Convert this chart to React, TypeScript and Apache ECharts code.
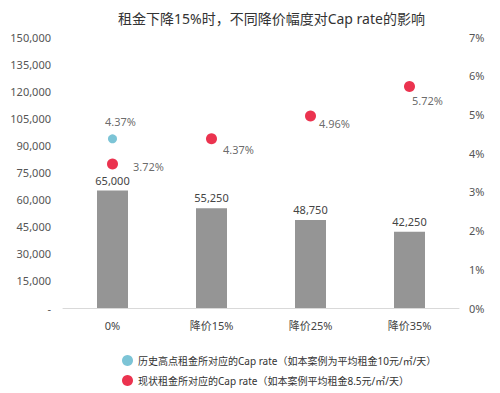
import React, { useEffect, useRef } from "react";
import * as echarts from "echarts";

const categories = ["0%", "降价15%", "降价25%", "降价35%"];
const priceValues = [65000, 55250, 48750, 42250];
const historicalCap = [4.37, null, null, null];
const currentCap = [3.72, 4.37, 4.96, 5.72];
const currentLabelOffsets = [
  [10, 3],
  [1, 11],
  [-2, 8],
  [-8, 14],
];

const FONT = "'Noto Sans', 'Noto Sans CJK SC', sans-serif";

export default function App() {
  const ref = useRef<HTMLDivElement>(null);
  useEffect(() => {
    document.body.style.margin = "0";
    if (!ref.current) return;
    const chart = echarts.init(ref.current, null, { renderer: "svg" });
    chart.setOption({
      animation: false,
      textStyle: { fontFamily: FONT },
      title: {
        text: "租金下降15%时，不同降价幅度对Cap rate的影响",
        left: 113,
        top: 6,
        textStyle: { fontSize: 14, fontWeight: "normal", color: "#333", fontFamily: FONT },
      },
      grid: { left: 63, right: 41, top: 37, bottom: 85 },
      legend: {
        orient: "vertical",
        left: 117,
        top: 350,
        height: 60,
        itemGap: 9,
        itemWidth: 11,
        itemHeight: 11,
        textStyle: { fontSize: 10, color: "#333", fontFamily: FONT },
        data: [
          { name: "历史高点租金所对应的Cap rate（如本案例为平均租金10元/㎡/天）", icon: "circle" },
          { name: "现状租金所对应的Cap rate（如本案例平均租金8.5元/㎡/天）", icon: "circle" },
        ],
      },
      xAxis: {
        type: "category",
        data: categories,
        axisLine: { lineStyle: { color: "#d9d9d9" } },
        axisTick: { show: false },
        axisLabel: { color: "#444", fontSize: 11, margin: 12 },
      },
      yAxis: [
        {
          type: "value",
          min: 0,
          max: 150000,
          interval: 15000,
          splitLine: { show: false },
          axisLine: { show: false },
          axisTick: { show: false },
          axisLabel: {
            color: "#555",
            fontSize: 11,
            margin: 12,
            formatter: (v: number) => (v === 0 ? "-" : v.toLocaleString("en-US")),
          },
        },
        {
          type: "value",
          min: 0,
          max: 7,
          interval: 1,
          position: "right",
          splitLine: { show: false },
          axisLine: { show: false },
          axisTick: { show: false },
          axisLabel: { color: "#555", fontSize: 11, margin: 10, formatter: "{value}%" },
        },
      ],
      series: [
        {
          type: "bar",
          name: "价格",
          data: priceValues,
          barWidth: 31,
          itemStyle: { color: "#959595" },
          label: {
            show: true,
            position: "top",
            color: "#444",
            fontSize: 11,
            formatter: (p: any) => p.value.toLocaleString("en-US"),
          },
        },
        {
          type: "scatter",
          name: "历史高点租金所对应的Cap rate（如本案例为平均租金10元/㎡/天）",
          yAxisIndex: 1,
          data: historicalCap,
          symbolSize: 9,
          itemStyle: { color: "#5BB5CC" },
          label: {
            show: true,
            position: "top",
            offset: [8, -2],
            color: "#444",
            fontSize: 11,
            formatter: (p: any) => p.value.toFixed(2) + "%",
          },
        },
        {
          type: "scatter",
          name: "现状租金所对应的Cap rate（如本案例平均租金8.5元/㎡/天）",
          yAxisIndex: 1,
          data: currentCap.map((v, i) => ({
            value: v,
            label: { offset: currentLabelOffsets[i] },
          })),
          symbolSize: 11,
          itemStyle: { color: "#E60023" },
          label: {
            show: true,
            position: "right",
            color: "#444",
            fontSize: 11,
            formatter: (p: any) => p.value.toFixed(2) + "%",
          },
        },
      ],
    });
    return () => chart.dispose();
  }, []);
  return <div ref={ref} style={{ width: 500, height: 393 }} />;
}
